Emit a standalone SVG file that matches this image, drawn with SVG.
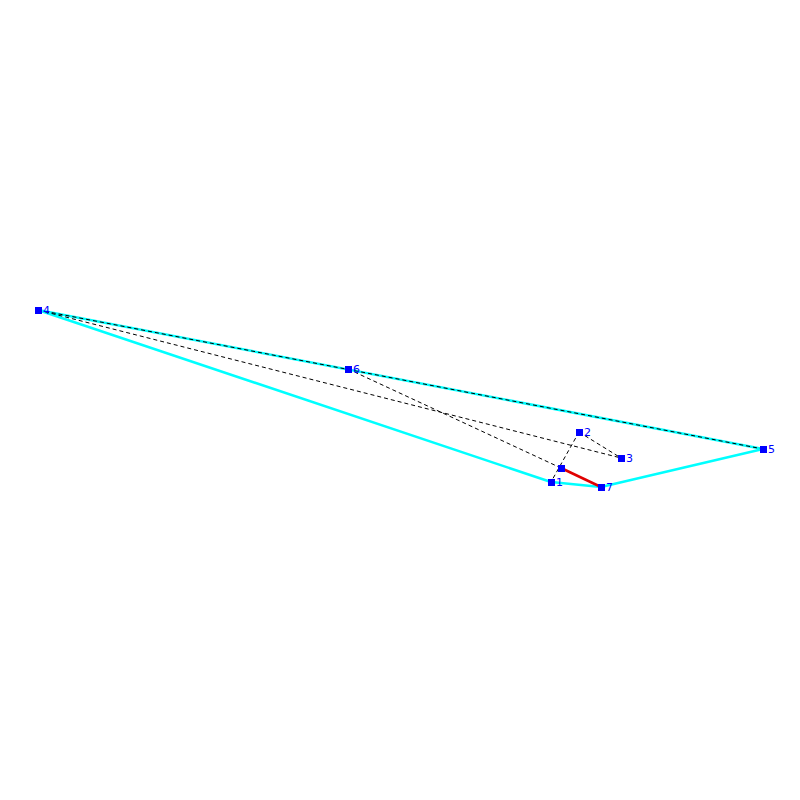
<svg xmlns="http://www.w3.org/2000/svg" width="800" height="800" viewBox="0 0 800 800">
<style>
.cy{fill:none;stroke:#00ffff;stroke-width:2.5;stroke-linejoin:round}
.ds{fill:none;stroke:#000;stroke-width:1;stroke-dasharray:4,3}
.rd{fill:none;stroke:#e00000;stroke-width:2.5}
.nd{fill:#0000ff}
.lb{fill:#0000ff;font-family:"DejaVu Sans",sans-serif;font-size:11px}
</style>
<rect width="800" height="800" fill="#fff"/>
<g id="connectors">
<polygon class="cy" points="38,310 551,482 601,487 763,449"/>
<line class="ds" x1="38" y1="310" x2="763" y2="449"/>
<line class="ds" x1="38" y1="310" x2="621" y2="458"/>
<line class="ds" x1="348" y1="369" x2="561" y2="468"/>
<line class="ds" x1="579" y1="432" x2="551" y2="482"/>
<line class="ds" x1="579" y1="432" x2="621" y2="458"/>
<line class="rd" x1="561" y1="468" x2="601" y2="487"/>
</g>
<g id="node1"><rect class="nd" x="548" y="479" width="7" height="7"/><text class="lb" x="556" y="486">1</text></g>
<g id="node2"><rect class="nd" x="576" y="429" width="7" height="7"/><text class="lb" x="584" y="436">2</text></g>
<g id="node3"><rect class="nd" x="618" y="455" width="7" height="7"/><text class="lb" x="626" y="462">3</text></g>
<g id="node4"><rect class="nd" x="35" y="307" width="7" height="7"/><text class="lb" x="43" y="314">4</text></g>
<g id="node5"><rect class="nd" x="760" y="446" width="7" height="7"/><text class="lb" x="768" y="453">5</text></g>
<g id="node6"><rect class="nd" x="345" y="366" width="7" height="7"/><text class="lb" x="353" y="373">6</text></g>
<g id="node7"><rect class="nd" x="598" y="484" width="7" height="7"/><text class="lb" x="606" y="491">7</text></g>
<g id="node8"><rect class="nd" x="558" y="465" width="7" height="7"/></g>
</svg>
